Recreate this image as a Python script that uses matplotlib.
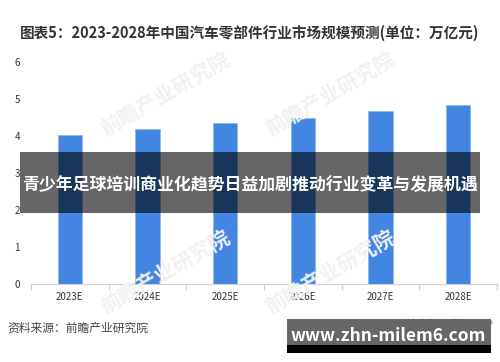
import matplotlib.pyplot as plt
from matplotlib.patches import Rectangle
import numpy as np

plt.rcParams['font.family'] = ['Noto Sans CJK SC', 'DejaVu Sans']

years = ['2023E', '2024E', '2025E', '2026E', '2027E', '2028E']
values = [4.03, 4.19, 4.34, 4.50, 4.68, 4.85]
y_ticks = [0, 1, 2, 3, 4, 5, 6]

title = '图表5：2023-2028年中国汽车零部件行业市场规模预测(单位：万亿元)'
source = '资料来源：前瞻产业研究院'
banner = '青少年足球培训商业化趋势日益加剧推动行业变革与发展机遇'
site = 'www.zhn-milem6.com'

fig = plt.figure(figsize=(5, 3.62), dpi=100)
ax = fig.add_axes([0.062, 0.2155, 0.932, 0.6132])

x = np.arange(len(years))
ax.bar(x, values, width=0.31, color='#4286E2', edgecolor='#8DB8EE', linewidth=0.6, zorder=2)
ax.set_xlim(-0.5, len(years) - 0.5)
ax.set_ylim(0, 6)
ax.set_yticks(y_ticks)
ax.set_yticklabels([str(t) for t in y_ticks], fontsize=7, color='#333333')
ax.set_xticks(x)
ax.set_xticklabels(years, fontsize=7, color='#333333')
ax.tick_params(axis='y', length=0, pad=8)
ax.tick_params(axis='x', length=0, pad=6)
ax.set_xticks(np.arange(-0.5, len(years)), minor=True)
ax.tick_params(axis='x', which='minor', length=4, color='#CFCFCF', width=0.8)
for s in ['top', 'right', 'left']:
    ax.spines[s].set_visible(False)
ax.spines['bottom'].set_color('#CFCFCF')
ax.spines['bottom'].set_linewidth(0.8)

# faint watermarks
for wx, wy in [(0.33, 0.74), (0.66, 0.74), (0.33, 0.25), (0.66, 0.25)]:
    fig.text(wx, wy, '前瞻产业研究院', fontsize=15, color='#F1F1F1', rotation=30,
             ha='center', va='center', fontweight='bold', zorder=0)

fig.text(0.5, 0.909, title, ha='center', va='center', fontsize=10.5,
         fontweight='bold', color='#333333')
fig.text(0.014, 0.094, source, ha='left', va='center', fontsize=8.5, color='#444444')
fig.text(0.79, 0.105, '@前瞻经济学人APP', ha='left', va='center', fontsize=8, color='#888888')

# overlay banners
fig.patches.append(Rectangle((0.04, 1 - 213 / 362), 0.92, 61 / 362, transform=fig.transFigure,
                             facecolor='black', alpha=0.6, zorder=5))
fig.text(0.5, 1 - 185 / 362, banner, ha='center', va='center', fontsize=12.2,
         fontweight='bold', color='white', zorder=6)

fig.patches.append(Rectangle((0.574, 1 - 345 / 362), 0.408, 26 / 362, transform=fig.transFigure,
                             facecolor='#666666', zorder=5))
fig.patches.append(Rectangle((0.574, 1 - 353 / 362), 0.408, 8 / 362, transform=fig.transFigure,
                             facecolor='black', zorder=5))
fig.text(0.776, 1 - 336 / 362, site, ha='center', va='center', fontsize=12.5,
         fontweight='bold', color='white', zorder=6)

fig.savefig('out.png', dpi=100)
